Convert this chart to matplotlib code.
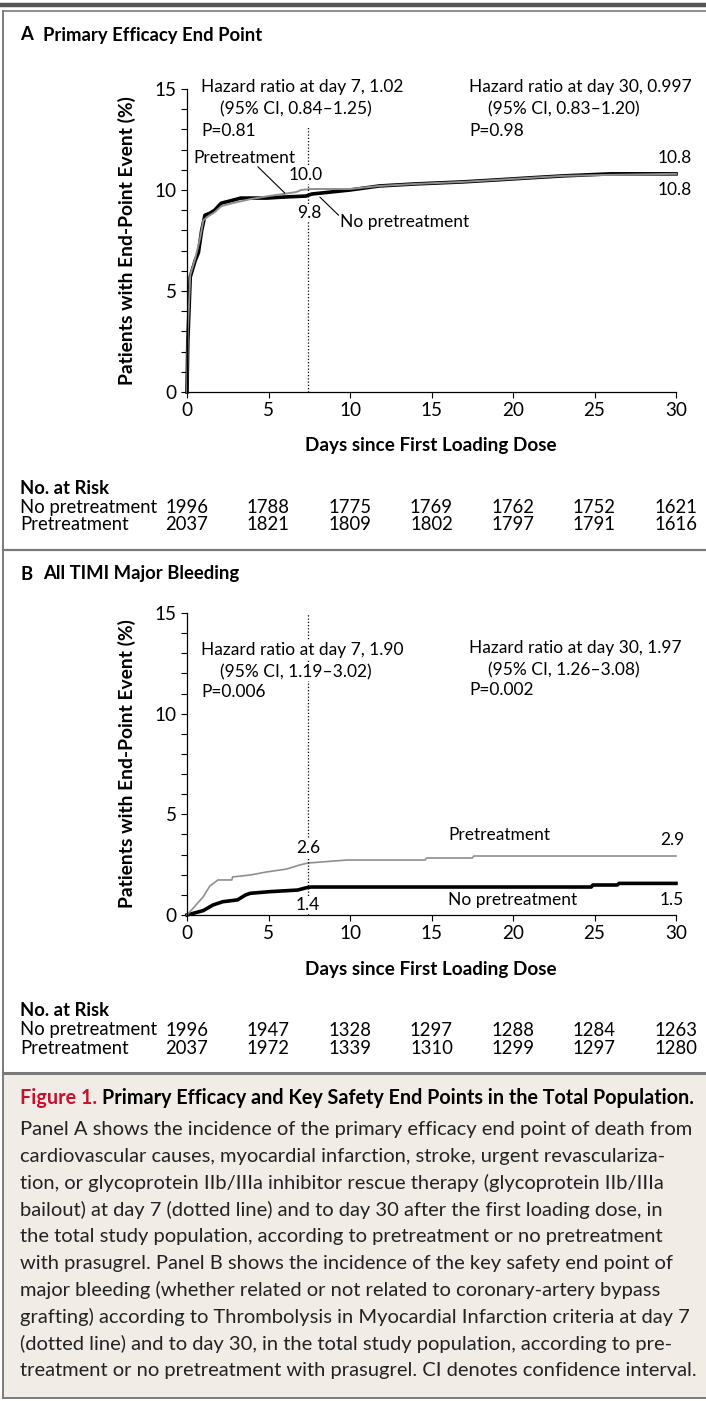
import matplotlib
matplotlib.use("Agg")
import matplotlib.pyplot as plt
import matplotlib.transforms as mtransforms
from matplotlib.lines import Line2D
from matplotlib.patches import Rectangle

plt.rcParams['font.family'] = ['Lato', 'DejaVu Sans']

W, H = 706, 1401

# ---- data ----
day_ticks = [0, 5, 10, 15, 20, 25, 30]
pct_ticks = [0, 5, 10, 15]

# panel A: primary efficacy end point (%)
a_no_days = [0, 0.05, 0.2, 0.5, 0.7, 0.9, 1.1, 1.4, 1.7, 2.1, 2.6, 3.3, 4.9, 5.9, 7.3, 7.65,
             10, 11.8, 14, 16.9, 19, 21, 23.1, 26, 30]
a_no_pct = [0, 2.5, 5.7, 6.5, 6.9, 8.0, 8.75, 8.85, 9.0, 9.35, 9.45, 9.6, 9.6, 9.65, 9.7, 9.8,
            10.0, 10.2, 10.3, 10.4, 10.5, 10.6, 10.7, 10.8, 10.8]
a_pre_days = [0, 0.05, 0.2, 0.5, 0.8, 1.0, 1.3, 1.7, 2.1, 2.8, 3.9, 5.0, 5.9, 6.7, 7.0, 7.6,
              10, 11.8, 14, 16.9, 19, 21, 23.1, 26, 30]
a_pre_pct = [0, 3.0, 5.8, 6.6, 7.6, 8.5, 8.7, 8.9, 9.2, 9.35, 9.55, 9.7, 9.8, 9.9, 10.0, 10.05,
             10.05, 10.2, 10.3, 10.4, 10.5, 10.6, 10.7, 10.75, 10.8]

# panel B: TIMI major bleeding (%)
b_pre_days = [0, 0.5, 1.0, 1.4, 1.9, 2.75, 2.8, 3.9, 4.9, 6.1, 6.9, 7.4, 8.2, 9.8,
              14.6, 14.7, 17.5, 17.6, 30]
b_pre_pct = [0, 0.45, 0.91, 1.44, 1.74, 1.74, 1.89, 1.99, 2.14, 2.28, 2.48, 2.58, 2.63, 2.73,
             2.73, 2.83, 2.83, 2.93, 2.93]
b_no_days = [0, 0.37, 1.0, 1.6, 2.2, 3.1, 3.6, 3.9, 5.1, 6.8, 7.3, 7.6, 24.8, 24.9, 26.4, 26.5, 30]
b_no_pct = [0, 0.08, 0.22, 0.5, 0.66, 0.75, 1.0, 1.08, 1.16, 1.24, 1.35, 1.39, 1.39, 1.49,
            1.49, 1.57, 1.57]

risk_a_no = [1996, 1788, 1775, 1769, 1762, 1752, 1621]
risk_a_pre = [2037, 1821, 1809, 1802, 1797, 1791, 1616]
risk_b_no = [1996, 1947, 1328, 1297, 1288, 1284, 1263]
risk_b_pre = [2037, 1972, 1339, 1310, 1299, 1297, 1280]

caption_lines = [
    "Panel A shows the incidence of the primary efficacy end point of death from",
    "cardiovascular causes, myocardial infarction, stroke, urgent revasculariza-",
    "tion, or glycoprotein IIb/IIIa inhibitor rescue therapy (glycoprotein IIb/IIIa",
    "bailout) at day 7 (dotted line) and to day 30 after the first loading dose, in",
    "the total study population, according to pretreatment or no pretreatment",
    "with prasugrel. Panel B shows the incidence of the key safety end point of",
    "major bleeding (whether related or not related to coronary-artery bypass",
    "grafting) according to Thrombolysis in Myocardial Infarction criteria at day 7",
    "(dotted line) and to day 30, in the total study population, according to pre-",
    "treatment or no pretreatment with prasugrel. CI denotes confidence interval.",
]

GRAY = "#8f8f8f"
FRAME = "#7a7a7a"
RED = "#c8102e"

fig = plt.figure(figsize=(W / 100, H / 100), dpi=100)
renderer = fig.canvas.get_renderer()


def fx(px):
    return px / W


def fy(py):
    return 1 - py / H


def fit_size(s, width, weight="normal", start=12.0):
    t = fig.text(0, 0, s, fontsize=start, weight=weight)
    w = t.get_window_extent(renderer).width
    t.remove()
    return start * width / w


def ptext(x, y, s, **kw):
    kw.setdefault("va", "center")
    return fig.text(fx(x), fy(y), s, **kw)


FS = fit_size("Hazard ratio at day 7, 1.02", 202)
FS_TICK = FS * 1.08
FS_TAB = fit_size("No pretreatment", 137)
FS_YL = fit_size("Patients with End-Point Event (%)", 288, weight="bold")
FS_XL = fit_size("Days since First Loading Dose", 249, weight="bold")
FS_TITLE = fit_size("Primary Efficacy End Point", 218, weight="bold")
FS_CAP = fit_size(caption_lines[0], 670)
WHITE = dict(fc="white", ec="none", pad=0.5)

# ---- frame ----
fig.add_artist(Line2D([0, 1], [fy(5), fy(5)], color="#555555", lw=3.2))
fig.add_artist(Line2D([fx(3), 1], [fy(11), fy(11)], color=FRAME, lw=1.2))
fig.add_artist(Line2D([fx(3), fx(3)], [fy(11), fy(1398)], color=FRAME, lw=1.4))
fig.add_artist(Line2D([fx(3), 1], [fy(550), fy(550)], color=FRAME, lw=1.6))
fig.add_artist(Rectangle((fx(3), fy(1398)), 1 - fx(3), (1398 - 1073) / H,
                         transform=fig.transFigure, fc="#f2ece7", ec="none", zorder=-1))
fig.add_artist(Line2D([fx(3), 1], [fy(1073), fy(1073)], color=FRAME, lw=2.2))
fig.add_artist(Line2D([fx(3), 1], [fy(1398), fy(1398)], color=FRAME, lw=1.4))


def make_axes(top, bottom):
    ax = fig.add_axes([fx(187), fy(bottom), fx(676) - fx(187), (bottom - top) / H])
    ax.set_xlim(0, 30)
    ax.set_ylim(0, 15)
    ax.spines["top"].set_visible(False)
    ax.spines["right"].set_visible(False)
    for s in ["left", "bottom"]:
        ax.spines[s].set_linewidth(0.9)
    ax.set_xticks(day_ticks)
    ax.set_yticks(pct_ticks)
    ax.set_yticks(range(16), minor=True)
    ax.tick_params(direction="out", length=4.5, width=0.8, labelsize=FS_TICK, pad=3)
    ax.tick_params(axis="y", which="minor", length=4.5, width=0.8)
    ax.tick_params(axis="y", pad=3)
    ax.patch.set_alpha(0)
    ptext(127, (top + bottom) / 2, "Patients with End-Point Event (%)", rotation=90,
          ha="center", fontsize=FS_YL, weight="bold")
    ptext(431, bottom + 54, "Days since First Loading Dose", ha="center",
          fontsize=FS_XL, weight="bold")
    return ax


def risk_table(ax, bottom, no_vals, pre_vals):
    trans = mtransforms.blended_transform_factory(ax.transData, fig.transFigure)
    ptext(20, bottom + 96, "No. at Risk", fontsize=FS_TAB, weight="bold")
    ptext(20, bottom + 115, "No pretreatment", fontsize=FS_TAB)
    ptext(20, bottom + 133, "Pretreatment", fontsize=FS_TAB)
    for d, n1, n2 in zip(day_ticks, no_vals, pre_vals):
        ax.text(d, fy(bottom + 115), str(n1), transform=trans, ha="center", va="center",
                fontsize=FS_TAB, clip_on=False)
        ax.text(d, fy(bottom + 133), str(n2), transform=trans, ha="center", va="center",
                fontsize=FS_TAB, clip_on=False)


# ---- panel A ----
ptext(20, 35, "A", fontsize=FS_TITLE, weight="bold")
ptext(43, 35, "Primary Efficacy End Point", fontsize=FS_TITLE, weight="bold")
axA = make_axes(89, 392)
axA.plot(a_no_days, a_no_pct, color="black", lw=2.6, solid_joinstyle="round", clip_on=False)
axA.plot(a_pre_days, a_pre_pct, color=GRAY, lw=1.4, clip_on=False)
axA.axvline(7.4, ymin=0, ymax=13.1 / 15, color="black", ls=(0, (1, 1.6)), lw=0.9)

ptext(201, 87, "Hazard ratio at day 7, 1.02", fontsize=FS)
ptext(220, 109, "(95% CI, 0.84\u20131.25)", fontsize=FS)
ptext(201, 131, "P=0.81", fontsize=FS)
ptext(469, 87, "Hazard ratio at day 30, 0.997", fontsize=FS)
ptext(488, 109, "(95% CI, 0.83\u20131.20)", fontsize=FS)
ptext(469, 131, "P=0.98", fontsize=FS)

ptext(193, 158, "Pretreatment", fontsize=FS)
ptext(306, 175, "10.0", fontsize=FS, ha="center", bbox=WHITE)
ptext(309, 213, "9.8", fontsize=FS, ha="center", bbox=WHITE)
ptext(340, 222, "No pretreatment", fontsize=FS)
ptext(675, 158, "10.8", fontsize=FS, ha="center")
ptext(675, 190, "10.8", fontsize=FS, ha="center")
axA.annotate("", xy=(6.0, 9.85), xytext=(4.35, 11.15),
             arrowprops=dict(arrowstyle="-", color="black", lw=0.8, shrinkA=0, shrinkB=0))
axA.annotate("", xy=(8.15, 9.65), xytext=(9.3, 8.75),
             arrowprops=dict(arrowstyle="-", color="black", lw=0.8, shrinkA=0, shrinkB=0))
risk_table(axA, 392, risk_a_no, risk_a_pre)

# ---- panel B ----
ptext(20, 574, "B", fontsize=FS_TITLE, weight="bold")
ptext(43, 574, "All TIMI Major Bleeding", fontsize=FS_TITLE, weight="bold")
axB = make_axes(613, 915)
axB.plot(b_no_days, b_no_pct, color="black", lw=2.6, clip_on=False)
axB.plot(b_pre_days, b_pre_pct, color=GRAY, lw=1.2, clip_on=False)
axB.axvline(7.4, color="black", ls=(0, (1, 1.6)), lw=0.9)

ptext(201, 650, "Hazard ratio at day 7, 1.90", fontsize=FS, bbox=WHITE)
ptext(220, 672, "(95% CI, 1.19\u20133.02)", fontsize=FS, bbox=WHITE)
ptext(201, 692, "P=0.006", fontsize=FS)
ptext(469, 648, "Hazard ratio at day 30, 1.97", fontsize=FS)
ptext(488, 670, "(95% CI, 1.26\u20133.08)", fontsize=FS)
ptext(469, 690, "P=0.002", fontsize=FS)

ptext(308, 848, "2.6", fontsize=FS, ha="center", bbox=WHITE)
ptext(308, 905, "1.4", fontsize=FS, ha="center", bbox=WHITE)
ptext(499, 835, "Pretreatment", fontsize=FS, ha="center")
ptext(672, 840, "2.9", fontsize=FS, ha="center")
ptext(513, 900, "No pretreatment", fontsize=FS, ha="center")
ptext(672, 900, "1.5", fontsize=FS, ha="center")
risk_table(axB, 915, risk_b_no, risk_b_pre)

# ---- caption ----
FS_CT = fit_size("Figure 1. Primary Efficacy and Key Safety End Points in the Total Population.",
                 670, weight="bold")
t1 = ptext(20, 1098, "Figure 1.", fontsize=FS_CT, weight="bold", color=RED)
x1 = t1.get_window_extent(renderer).x1
ptext(x1 + 5, 1098, "Primary Efficacy and Key Safety End Points in the Total Population.",
      fontsize=FS_CT, weight="bold")
for i, line in enumerate(caption_lines):
    ptext(20, 1130 + 26.7 * i, line, fontsize=FS_CAP, color="#222222")

fig.savefig("out.png", dpi=100)
